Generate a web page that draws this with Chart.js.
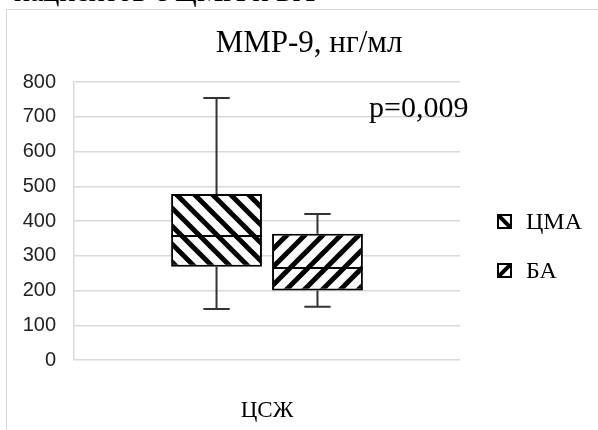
<!DOCTYPE html>
<html>
<head>
<meta charset="utf-8">
<script src="https://cdn.jsdelivr.net/npm/chart.js@4.4.1/dist/chart.umd.min.js"></script>
<style>
  html, body { margin: 0; padding: 0; background: #fff; }
  body { width: 598px; height: 430px; overflow: hidden; position: relative; }
  #caption { position: absolute; left: 14px; top: -24px; font: 30px "Liberation Serif", serif; line-height: 30px; white-space: nowrap; color: #000; }
  #frame { position: absolute; left: 6px; top: 9px; width: 640px; height: 460px; border: 1px solid #d9d9d9; }
  #wrap { position: absolute; left: 0; top: 0; width: 598px; height: 430px; }
</style>
</head>
<body>
<div id="caption">пациентов с ЦМА и БА</div>
<div id="frame"></div>
<div id="wrap"><canvas id="grafico"></canvas></div>
<script>
// datos
const categorias = ['ЦСЖ'];
const grupos = ['ЦМА', 'БА'];
const minimos = [147, 153];
const q1 = [268, 200];
const medianas = [357, 265];
const q3 = [478, 363];
const maximos = [754, 420];
const titulo = 'MMP-9, нг/мл';
const textoP = 'p=0,009';

const ctx = document.getElementById('grafico').getContext('2d');

// rayado diagonal: '\\' para ЦМА, '/' para БА
const crearRayado = (dir) => {
    const p = 18;
    const c = document.createElement('canvas');
    c.width = p; c.height = p;
    const g = c.getContext('2d');
    g.fillStyle = '#fff';
    g.fillRect(0, 0, p, p);
    g.strokeStyle = '#000';
    g.lineWidth = 5;
    for (let k = -1; k <= 1; k++) {
        g.beginPath();
        if (dir === '\\') { g.moveTo(k * p - p, -p); g.lineTo(k * p + 2 * p, 2 * p); }
        else { g.moveTo(k * p - p, 2 * p); g.lineTo(k * p + 2 * p, -p); }
        g.stroke();
    }
    return ctx.createPattern(c, 'repeat');
};
const direcciones = ['\\', '/'];

const datasets = grupos.map((nombre, i) => ({
    label: nombre,
    data: [[q1[i], q3[i]]],
    backgroundColor: crearRayado(direcciones[i]),
    borderColor: '#000',
    borderWidth: 2,
    borderSkipped: false,
    barPercentage: 0.9,
    categoryPercentage: 0.523
}));

// bigotes y medianas
const cajas = {
    id: 'cajas',
    afterDatasetsDraw(chart) {
        const y = chart.scales.y;
        const c = chart.ctx;
        c.save();
        grupos.forEach((_, i) => {
            const bar = chart.getDatasetMeta(i).data[0];
            const x = bar.x, w = bar.width;
            c.strokeStyle = '#333';
            c.lineWidth = 2;
            const tapa = w * 0.145;
            c.beginPath();
            c.moveTo(x, y.getPixelForValue(q3[i]));
            c.lineTo(x, y.getPixelForValue(maximos[i]));
            c.moveTo(x - tapa, y.getPixelForValue(maximos[i]));
            c.lineTo(x + tapa, y.getPixelForValue(maximos[i]));
            c.moveTo(x, y.getPixelForValue(q1[i]));
            c.lineTo(x, y.getPixelForValue(minimos[i]));
            c.moveTo(x - tapa, y.getPixelForValue(minimos[i]));
            c.lineTo(x + tapa, y.getPixelForValue(minimos[i]));
            c.stroke();
            c.strokeStyle = '#000';
            c.lineWidth = 2;
            c.beginPath();
            c.moveTo(x - w / 2, y.getPixelForValue(medianas[i]));
            c.lineTo(x + w / 2, y.getPixelForValue(medianas[i]));
            c.stroke();
        });
        c.restore();
    },
    afterDraw(chart) {
        const c = chart.ctx;
        c.save();
        c.fillStyle = '#000';
        c.font = '31px "Liberation Serif"';
        c.textAlign = 'center';
        c.textBaseline = 'alphabetic';
        c.fillText(titulo, 309, 52);
        c.font = '30px "Liberation Serif"';
        c.textAlign = 'left';
        c.fillText(textoP, 369, 117);
        // leyenda
        const yLey = [222, 271];
        c.font = '24px "Liberation Serif"';
        c.textBaseline = 'middle';
        grupos.forEach((nombre, i) => {
            const bx = 498, by = yLey[i] - 7, s = 13;
            c.save();
            c.fillStyle = '#fff';
            c.fillRect(bx, by, s, s);
            c.beginPath();
            c.rect(bx, by, s, s);
            c.clip();
            c.strokeStyle = '#000';
            c.lineWidth = 4;
            c.beginPath();
            if (direcciones[i] === '\\') { c.moveTo(bx, by); c.lineTo(bx + s, by + s); }
            else { c.moveTo(bx, by + s); c.lineTo(bx + s, by); }
            c.stroke();
            c.restore();
            c.strokeStyle = '#000';
            c.lineWidth = 2;
            c.strokeRect(bx, by, s, s);
            c.fillStyle = '#000';
            c.fillText(nombre, 526, yLey[i] + 1);
        });
        c.restore();
    }
};

new Chart(ctx, {
    type: 'bar',
    data: { labels: categorias, datasets },
    options: {
        responsive: true,
        maintainAspectRatio: false,
        animation: false,
        layout: { padding: { left: 22, top: 82, right: 138, bottom: 0 } },
        plugins: {
            legend: { display: false },
            title: { display: false },
            tooltip: { enabled: false }
        },
        scales: {
            x: {
                grid: { display: false },
                border: { display: false },
                ticks: { font: { family: 'Liberation Serif', size: 23 }, color: '#000', padding: 29 },
                afterFit(s) { s.height = 70; }
            },
            y: {
                min: 0,
                max: 800,
                ticks: { stepSize: 100, font: { family: 'Liberation Sans', size: 20 }, color: '#222', padding: 18 },
                grid: { color: '#d9d9d9', lineWidth: 1.5, drawTicks: false },
                border: { display: true, color: '#d9d9d9', width: 1.5 },
                afterFit(s) { s.width = 52; }
            }
        }
    },
    plugins: [cajas]
});
</script>
</body>
</html>
